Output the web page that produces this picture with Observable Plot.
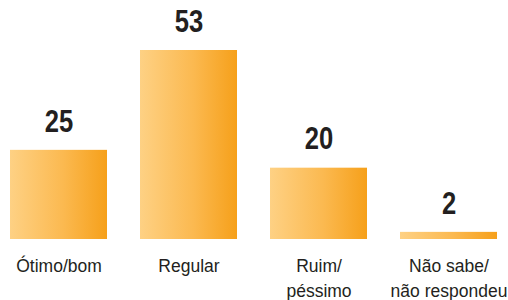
<!DOCTYPE html>
<html>
<head>
<meta charset="utf-8">
<script src="https://cdn.jsdelivr.net/npm/d3@7"></script>
<script src="https://cdn.jsdelivr.net/npm/@observablehq/plot@0.6"></script>
<style>
  html, body { margin: 0; padding: 0; background: #fff; }
  #chart svg { display: block; }
</style>
</head>
<body>
<div id="chart"></div>
<script>
const categories = ["Ótimo/bom", "Regular", "Ruim/\npéssimo", "Não sabe/\nnão respondeu"];
const values = [25, 53, 20, 2];

const data = categories.map((c, i) => ({category: c, value: values[i]}));

function gradientDefs() {
  const ns = "http://www.w3.org/2000/svg";
  const defs = document.createElementNS(ns, "defs");
  const lg = document.createElementNS(ns, "linearGradient");
  lg.setAttribute("id", "barGrad");
  lg.setAttribute("x1", "0"); lg.setAttribute("x2", "1");
  lg.setAttribute("y1", "0"); lg.setAttribute("y2", "0");
  [["0%", "#FED184"], ["55%", "#FBB950"], ["100%", "#F6A01A"]].forEach(([o, c]) => {
    const s = document.createElementNS(ns, "stop");
    s.setAttribute("offset", o);
    s.setAttribute("stop-color", c);
    lg.appendChild(s);
  });
  defs.appendChild(lg);
  return defs;
}

const chart = Plot.plot({
  width: 508,
  height: 300,
  marginLeft: 9,
  marginRight: 11,
  marginTop: 50,
  marginBottom: 61,
  style: {fontFamily: "'Liberation Sans', Arial, sans-serif", background: "#fff"},
  x: {domain: categories, paddingInner: 0.256, paddingOuter: 0, label: null},
  y: {domain: [0, 53], axis: null},
  marks: [
    gradientDefs,
    Plot.barY(data, {x: "category", y: "value", fill: "url(#barGrad)"}),
    Plot.text(data, {
      x: "category", y: "value", text: d => String(d.value),
      dy: -29, lineAnchor: "middle", fontSize: 32, fontWeight: "bold",
      fontFamily: "'Liberation Sans', Arial, sans-serif",
      fill: "#231f20", className: "vlabel"
    }),
    Plot.axisX({
      tickSize: 0, tickPadding: 15, fontSize: 17.5, lineHeight: 1.42,
      fill: "#231f20", label: null
    })
  ]
});

// condense the bold value labels horizontally
chart.querySelectorAll(".vlabel text").forEach(t => {
  const tr = t.getAttribute("transform") || "";
  t.setAttribute("transform", tr + " scale(0.8,1)");
});

document.getElementById("chart").appendChild(chart);
</script>
</body>
</html>
